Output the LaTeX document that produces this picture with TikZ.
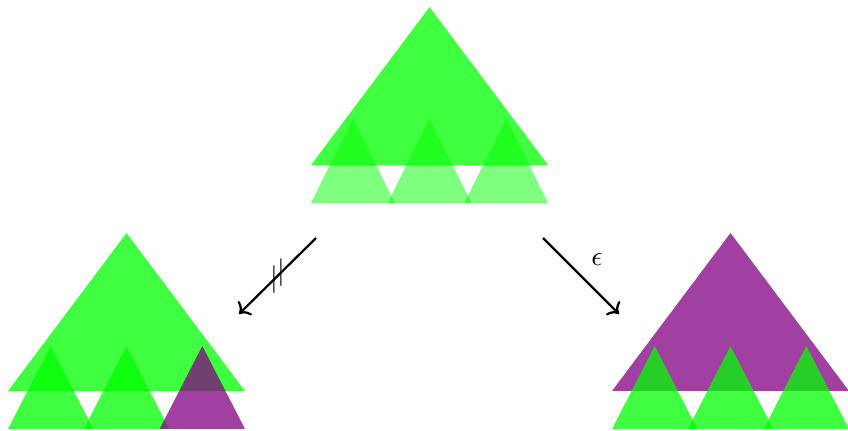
\documentclass[tikz,border=0pt]{standalone}
\usepackage{amsmath}
\usepackage{tikz}
\usetikzlibrary{arrows.meta,positioning,calc}

\begin{document}
\begin{tikzpicture}[
    bigtri/.style={fill=green, fill opacity=0.75},
    smalltri/.style={fill=green, fill opacity=0.75},
    faint/.style={fill=green, fill opacity=0.5},
    odd/.style={fill=violet, fill opacity=0.75},
    arrow/.style={->, thick}
]
\useasboundingbox (0,0) rectangle (10.734,-5.443);

\coordinate (t0) at (5.437,-2.089);
\coordinate (l0) at (1.601,-4.949);
\coordinate (r0) at (9.247,-4.949);

% top tree
\begin{scope}[shift={(t0)}]
  \fill[bigtri] (-1.5,0) -- (0,2) -- (1.5,0) -- cycle;
  \foreach \x in {-0.97,0,0.97}
    \fill[faint] (\x-0.53,-0.481) -- (\x,0.59) -- (\x+0.53,-0.481) -- cycle;
\end{scope}

% left tree
\begin{scope}[shift={(l0)}]
  \fill[bigtri] (-1.5,0) -- (0,2) -- (1.5,0) -- cycle;
  \foreach \x/\s in {-0.96/smalltri,0/smalltri,0.96/odd}
    \fill[\s] (\x-0.54,-0.481) -- (\x,0.57) -- (\x+0.54,-0.481) -- cycle;
\end{scope}

% right tree
\begin{scope}[shift={(r0)}]
  \fill[odd] (-1.5,0) -- (0,2) -- (1.5,0) -- cycle;
  \foreach \x in {-0.96,0,0.96}
    \fill[smalltri] (\x-0.54,-0.481) -- (\x,0.57) -- (\x+0.54,-0.481) -- cycle;
\end{scope}

\coordinate (a0) at (4.0,-3.013);
\coordinate (a1) at (3.025,-3.975);
\coordinate (b0) at (6.873,-3.013);
\coordinate (b1) at (7.835,-3.975);
\draw[arrow] (a0) -- (a1)
  node[pos=0.455, inner sep=0] {$|$}
  node[pos=0.545, inner sep=0] {$|$};
\draw[arrow] (b0) -- (b1) node[midway, above right] {$\epsilon$};
\end{tikzpicture}
\end{document}
